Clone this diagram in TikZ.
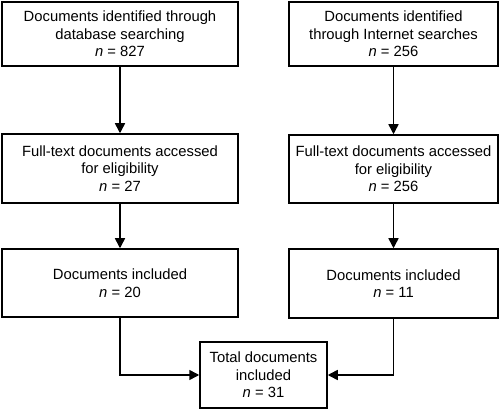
\documentclass[tikz,border=0pt]{standalone}
\usepackage{fontspec}
\setmainfont{Liberation Sans}
\usetikzlibrary{positioning, arrows.meta}
\definecolor{FlowBlack}{HTML}{000000}

\begin{document}
\begin{tikzpicture}[x=1pt, y=-1pt,
    box/.style={draw=FlowBlack, line width=1.5pt, fill=white, inner sep=0pt, align=center,
        font=\fontsize{14.8}{17.5}\selectfont},
    flow/.style={-{Triangle[length=10pt, width=10pt]}, line width=1.5pt, FlowBlack}]
    \useasboundingbox[fill=white] (0,0) rectangle (500,411);

    % Database column
    \node[box, minimum width=236pt, minimum height=64pt] (dbsearch) at (120,34) {Documents identified through\\database searching\\\textit{n} = 827};
    \node[box, minimum width=236pt, minimum height=69pt] (dbfull) at (120,168.5) {Full-text documents accessed\\for eligibility\\\textit{n} = 27};
    \node[box, minimum width=236pt, minimum height=68pt] (dbincl) at (120,283) {Documents included\\\textit{n} = 20};

    % Internet column
    \node[box, minimum width=209pt, minimum height=64pt] (websearch) at (393.5,34) {Documents identified\\through Internet searches\\\textit{n} = 256};
    \node[box, minimum width=209pt, minimum height=68pt] (webfull) at (393.5,169) {Full-text documents accessed\\for eligibility\\\textit{n} = 256};
    \node[box, minimum width=209pt, minimum height=69pt] (webincl) at (393.5,283.5) {Documents included\\\textit{n} = 11};

    % Total
    \node[box, minimum width=127pt, minimum height=66pt] (total) at (263.5,375) {Total documents\\included\\\textit{n} = 31};

    % Arrows
    \draw[flow] (dbsearch) -- (dbfull);
    \draw[flow] (dbfull) -- (dbincl);
    \draw[flow] (websearch) -- (webfull);
    \draw[flow] (webfull) -- (webincl);
    \draw[flow] (dbincl.south) |- (total.west);
    \draw[flow] (webincl.south) |- (total.east);
\end{tikzpicture}
\end{document}
